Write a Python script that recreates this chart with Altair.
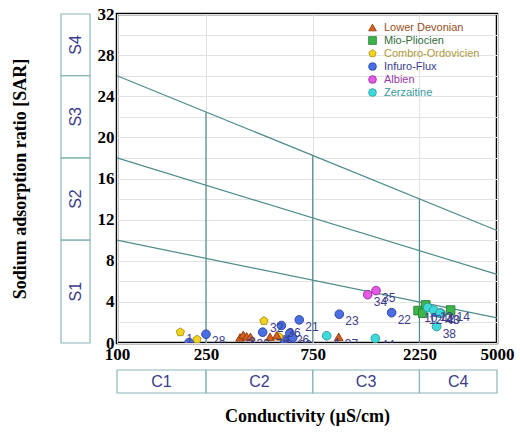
import altair as alt
import pandas as pd

# ---------------- data ----------------
groups = ["Lower Devonian", "Mio-Pliocien", "Combro-Ordovicien", "Infuro-Flux", "Albien", "Zerzaitine"]
fills = ["#d65f1c", "#3cb54a", "#f3d31c", "#4a6fe3", "#e45ae6", "#3ed9d9"]
strokes = ["#8a3a10", "#2a7a32", "#a88f12", "#2a3f9a", "#8f2a90", "#2a9a9c"]
label_cols = ["#9a4f24", "#2f6e3e", "#b09a3a", "#3a3a90", "#9a3aa0", "#3a9aa2"]
PENT = "M0,-1L0.951,-0.309L0.588,0.809L-0.588,0.809L-0.951,-0.309Z"
shapes = ["triangle-up", "square", PENT, "circle", "circle", "circle"]

ld_ec = [355, 367, 380, 395, 483, 518, 980]
ld_sar = [0.55, 0.8, 0.65, 0.6, 0.6, 0.75, 0.6]
ld_lab = ["2", "3", "", "30", "7", "6", "37"]

mp_ec = [2220, 2400, 2330, 3100]
mp_sar = [3.15, 3.7, 2.9, 3.2]
mp_lab = ["10", "", "12", "14"]

co_ec = [192, 228, 454, 530]
co_sar = [1.05, 0.35, 2.15, 0.6]
co_lab = ["1", "", "32", "9"]

if_ec = [210, 250, 448, 543, 593, 610, 560, 653, 986, 1690, 2800, 2650]
if_sar = [0.05, 0.85, 1.05, 1.7, 0.95, 0.5, 0.3, 2.25, 2.8, 2.95, 2.9, 3.0]
if_lab = ["11", "28", "", "36", "26", "29", "5", "21", "23", "22", "40", "42"]

al_ec = [1321, 1439]
al_sar = [4.7, 5.1]
al_lab = ["34", "35"]

ze_ec = [866, 1429, 2450, 2605, 2780, 2686]
ze_sar = [0.7, 0.45, 3.45, 3.2, 2.9, 1.6]
ze_lab = ["4", "44", "", "13", "43", "38"]

# classification boundaries
line_ec = [100, 5000]
s1s2 = [10.0, 2.45]
s2s3 = [18.0, 6.67]
s3s4 = [26.0, 10.94]

c_bound_ec = [250, 750, 2250]
c_bound_top = [22.45, 18.25, 14.02]

s_names = ["S1", "S2", "S3", "S4"]
s_lo = [0, 10, 18, 26]
s_hi = [10, 18, 26, 32]

c_names = ["C1", "C2", "C3", "C4"]
c_lo = [100, 250, 750, 2250]
c_hi = [250, 750, 2250, 5000]

x_ticks = [100, 250, 750, 2250, 5000]

# ---------------- tables ----------------
rows = []
for g, ecs, sars, labs in [
    (groups[3], if_ec, if_sar, if_lab),
    (groups[2], co_ec, co_sar, co_lab),
    (groups[0], ld_ec, ld_sar, ld_lab),
    (groups[4], al_ec, al_sar, al_lab),
    (groups[1], mp_ec, mp_sar, mp_lab),
    (groups[5], ze_ec, ze_sar, ze_lab),
]:
    for e, s, l in zip(ecs, sars, labs):
        rows.append({"group": g, "ec": e, "sar": s, "lab": l})
pts = pd.DataFrame(rows)

lines = pd.DataFrame(
    [{"line": n, "ec": e, "sar": v} for n, vals in [("a", s1s2), ("b", s2s3), ("c", s3s4)]
     for e, v in zip(line_ec, vals)]
)
vlines = pd.DataFrame({"ec": c_bound_ec, "top": c_bound_top, "bot": [0, 0, 0]})
sbox = pd.DataFrame({"name": s_names, "lo": s_lo, "hi": s_hi})
cbox = pd.DataFrame({"name": c_names, "lo": c_lo, "hi": c_hi})

SERIF = "Liberation Serif"
SANS = "Liberation Sans"
TEAL = "#4f8c8c"
BOXC = "#8cb8b8"
NAVY = "#3b3b8a"
XT = "Conductivity (µS/cm)"
YT = "Sodium adsorption ratio [SAR]"

xscale = alt.Scale(type="log", domain=[100, 5000], nice=False)
yscale = alt.Scale(domain=[0, 32], nice=False)

X_AX = alt.Axis(values=x_ticks, format="d", labelFont=SERIF, labelFontSize=17,
                labelFontWeight="bold", labelColor="black", labelPadding=3, ticks=False,
                domain=False, grid=True, gridColor="#e2e2e2", labelFlush=False,
                titleFont=SERIF, titleFontSize=18, titleFontWeight="bold",
                titleColor="black", titleX=190, titleY=73, titleBaseline="middle")
Y_AX = alt.Axis(values=list(range(0, 33, 2)),
                labelExpr="datum.value % 4 == 0 ? datum.label : ''",
                labelFont=SERIF, labelFontSize=17, labelFontWeight="bold",
                labelColor="black", labelPadding=3, ticks=False, domain=False,
                grid=True, gridColor="#e2e2e2",
                titleFont=SERIF, titleFontSize=18, titleFontWeight="bold",
                titleColor="black", titleAngle=270, titleX=-97, titleY=164.5,
                titleAlign="center", titleBaseline="middle")


def X(f):
    return alt.X(f, scale=xscale, title=XT, axis=X_AX)


def Y(f):
    return alt.Y(f, scale=yscale, title=YT, axis=Y_AX)


# ---------------- layers ----------------
base_lines = alt.Chart(lines).mark_line(color=TEAL, strokeWidth=1.2).encode(
    x=X("ec:Q"), y=Y("sar:Q"), detail="line:N",
)

vrules = alt.Chart(vlines).mark_rule(color=TEAL, strokeWidth=1.2).encode(
    x=X("ec:Q"), y=Y("bot:Q"), y2="top:Q",
)

leg_expr = " : ".join(
    f"datum.label == '{g}' ? '{c}'" for g, c in zip(groups, label_cols)
) + " : 'black'"
legend = alt.Legend(
    title=None, orient="none", legendX=250, legendY=8, padding=0,
    labelFont=SANS, labelFontSize=11, labelColor={"expr": leg_expr},
    symbolSize=60, symbolStrokeWidth=0.8, symbolStrokeColor="#555555",
    rowPadding=1, labelOffset=6,
)

points = alt.Chart(pts).mark_point(filled=True, size=75, strokeWidth=0.9, opacity=1, clip=True).encode(
    x=X("ec:Q"), y=Y("sar:Q"),
    color=alt.Color("group:N", scale=alt.Scale(domain=groups, range=fills), legend=legend),
    shape=alt.Shape("group:N", scale=alt.Scale(domain=groups, range=shapes), legend=legend),
    stroke=alt.Stroke("group:N", scale=alt.Scale(domain=groups, range=strokes), legend=None),
)

labels = alt.Chart(pts).mark_text(
    align="left", baseline="middle", dx=6, dy=7, font=SANS, fontSize=12, color="#3d3d8a",
    clip=True,
).encode(
    x=X("ec:Q"), y=Y("sar:Q"), text="lab:N",
)

s_rects = alt.Chart(sbox).mark_rect(fill="white", fillOpacity=0, stroke=BOXC, strokeWidth=1.2).encode(
    x=alt.value(-56), x2=alt.value(-27),
    y=Y("lo:Q"), y2="hi:Q",
)
s_text = alt.Chart(sbox).transform_calculate(mid="(datum.lo + datum.hi) / 2").mark_text(
    angle=270, font=SANS, fontSize=16, color=NAVY, align="center", baseline="middle"
).encode(
    x=alt.value(-41.5),
    y=Y("mid:Q"),
    text="name:N",
)

c_rects = alt.Chart(cbox).mark_rect(fill="white", fillOpacity=0, stroke=BOXC, strokeWidth=1.2).encode(
    x=X("lo:Q"), x2="hi:Q",
    y=alt.value(356), y2=alt.value(379),
)
c_text = alt.Chart(cbox).transform_calculate(mid="sqrt(datum.lo * datum.hi)").mark_text(
    font=SANS, fontSize=16, color=NAVY, align="center", baseline="middle"
).encode(
    x=X("mid:Q"),
    y=alt.value(367.5),
    text="name:N",
)

chart = alt.layer(
    base_lines, vrules, points, labels, s_rects, s_text, c_rects, c_text
).properties(
    width=380, height=329,
    autosize=alt.AutoSizeParams(type="none"),
    padding={"left": 117, "top": 14, "right": 23, "bottom": 89},
    background="white",
).configure_view(
    stroke="black", strokeWidth=2.5
)

chart.save("out.html", embed_options={"renderer": "svg", "actions": False})
